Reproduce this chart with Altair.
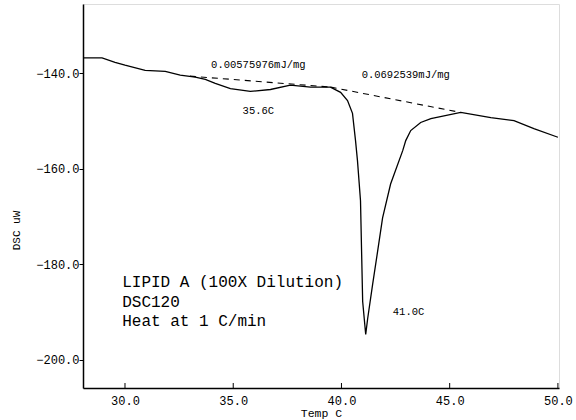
import altair as alt
import pandas as pd

# DSC curve (Temp C, DSC uW)
temp = [28.06, 28.94, 29.54, 30.0, 30.93, 31.86, 32.55, 33.25, 33.71, 34.17, 34.87,
        35.79, 36.72, 37.64, 38.57, 39.49, 39.96, 40.28, 40.51, 40.65, 40.74, 40.88,
        40.93, 40.98, 41.12, 41.21, 41.44, 41.67, 41.9, 42.27, 42.83, 42.97, 43.2,
        43.66, 44.13, 45.51, 46.9, 47.97, 48.89, 50.0]
dsc = [-136.8, -136.8, -137.7, -138.3, -139.4, -139.6, -140.4, -140.8, -141.3, -142.1,
       -143.2, -143.8, -143.4, -142.5, -142.9, -142.9, -144.0, -145.7, -148.4, -154.1,
       -158.3, -166.7, -177.3, -187.8, -194.7, -191.4, -184.2, -177.3, -170.3, -163.2,
       -156.2, -154.1, -152.0, -150.3, -149.5, -148.2, -149.3, -149.9, -151.6, -153.4]

# Integration baselines
base_id = ["a", "a", "b", "b"]
base_x = [33.0, 39.5, 39.5, 45.5]
base_y = [-140.6, -142.9, -142.9, -148.2]

# Annotations
ann_text = ["0.00575976mJ/mg", "0.0692539mJ/mg", "35.6C", "41.0C"]
ann_x = [36.16, 42.97, 36.16, 43.1]
ann_y = [-138.3, -140.4, -148.0, -189.9]

info_text = ["LIPID A (100X Dilution)", "DSC120", "Heat at 1 C/min"]
info_x = [29.87, 29.87, 29.87]
info_y = [-183.8, -187.8, -191.8]

x_ticks = [30.0, 35.0, 40.0, 45.0, 50.0]
y_ticks = [-140.0, -160.0, -180.0, -200.0]

FONT = "Liberation Mono"
W, H = 476, 384

curve = pd.DataFrame({"t": temp, "d": dsc, "idx": list(range(len(temp)))})
base = pd.DataFrame({"id": base_id, "t": base_x, "d": base_y})
ann = pd.DataFrame({"txt": ann_text, "t": ann_x, "d": ann_y})
info = pd.DataFrame({"txt": info_text, "t": info_x, "d": info_y})
xt = pd.DataFrame({"t": x_ticks})

xs = alt.Scale(domain=[28.06, 50.05], nice=False, zero=False)
ys = alt.Scale(domain=[-205.9, -125.5], nice=False, zero=False)

xaxis = alt.Axis(values=x_ticks, format=".1f", title="Temp C", grid=False,
                 tickSize=0, labelPadding=7, labelFontSize=12, labelFont=FONT,
                 labelColor="black", domainColor="black", domainWidth=1.5,
                 titleFont=FONT, titleFontSize=11.5, titleFontWeight="normal",
                 titleColor="black", titleY=19)
yaxis = alt.Axis(values=y_ticks, format=".1f", title="DSC uW", grid=False,
                 tickSize=4, tickColor="black", labelPadding=0, labelFontSize=12,
                 labelFont=FONT, labelColor="black", domainColor="black",
                 domainWidth=1.5, titleFont=FONT, titleFontSize=11,
                 titleFontWeight="normal", titleColor="black",
                 titleX=-62, titleY=226)

line = alt.Chart(curve).mark_line(color="black", strokeWidth=1.3).encode(
    x=alt.X("t:Q", scale=xs, axis=xaxis),
    y=alt.Y("d:Q", scale=ys, axis=yaxis),
    order=alt.Order("idx:Q"),
)

dash = alt.Chart(base).mark_line(color="black", strokeWidth=1.1, strokeDash=[6, 5]).encode(
    x=alt.X("t:Q", scale=xs), y=alt.Y("d:Q", scale=ys), detail="id:N")

anns = alt.Chart(ann).mark_text(font=FONT, fontSize=10.5, color="black").encode(
    x=alt.X("t:Q", scale=xs), y=alt.Y("d:Q", scale=ys), text="txt:N")

infos = alt.Chart(info).mark_text(font=FONT, fontSize=16, color="black", align="left").encode(
    x=alt.X("t:Q", scale=xs), y=alt.Y("d:Q", scale=ys), text="txt:N")

xticks = alt.Chart(xt).mark_rule(color="black", strokeWidth=1).encode(
    x=alt.X("t:Q", scale=xs), y=alt.value(H), y2=alt.value(H - 5))

chart = alt.layer(line, dash, anns, infos, xticks).properties(
    width=W, height=H,
    autosize=alt.AutoSizeParams(type="none"),
    padding={"left": 83, "top": 4, "right": 17, "bottom": 32},
).configure_view(stroke="black", strokeWidth=1.5).configure(background="white")

chart.save("out.html", embed_options={"renderer": "svg", "actions": False})
